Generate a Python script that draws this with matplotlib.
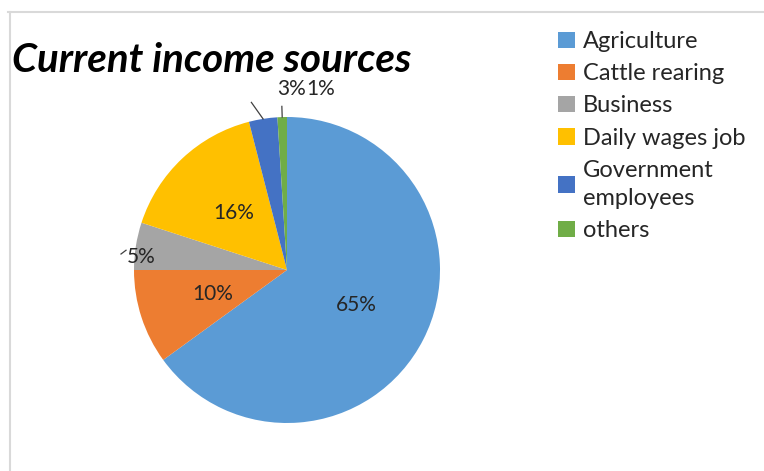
import numpy as np
import matplotlib.pyplot as plt

categories = ['Agriculture', 'Cattle rearing', 'Business', 'Daily wages job',
              'Government\nemployees', 'others']
values = [65, 10, 5, 16, 3, 1]
colors = ['#5B9BD5', '#ED7D31', '#A5A5A5', '#FFC000', '#4472C4', '#70AD47']

plt.rcParams['font.family'] = ['Lato', 'DejaVu Sans']

fig = plt.figure(figsize=(7.64, 4.71), dpi=100)
fig.patch.set_facecolor('white')

# frame lines (top and left of the chart area)
fig.add_artist(plt.Line2D([8 / 764, 1], [1 - 12 / 471] * 2, color='#d9d9d9', lw=1.5))
fig.add_artist(plt.Line2D([10 / 764] * 2, [0, 1 - 12 / 471], color='#d9d9d9', lw=1.5))

ax = fig.add_axes([134 / 764, 48 / 471, 306 / 764, 306 / 471])
wedges, _ = ax.pie(values, colors=colors, startangle=90, counterclock=False,
                   radius=1, wedgeprops=dict(linewidth=0))
ax.set_xlim(-1, 1)
ax.set_ylim(-1, 1)
ax.set_aspect('equal')
ax.axis('off')


def polar(r, deg):
    a = np.deg2rad(deg)
    return r * np.cos(a), r * np.sin(a)


txt = dict(fontsize=15, color='#262626', ha='center', va='center')
lead = dict(color='#404040', lw=0.9, clip_on=False)
for w, v in zip(wedges, values):
    mid = (w.theta1 + w.theta2) / 2
    if v >= 10:
        x, y = polar(0.51, mid)
        ax.text(x, y, f'{v}%', **txt)
    elif v == 5:
        x, y = polar(0.96, mid + 4)
        ax.text(x, y, f'{v}%', **txt)
        p1, p2 = polar(1.09, mid + 3.5), polar(1.06, mid + 2)
        ax.plot([p1[0], p2[0]], [p1[1], p2[1]], **lead)
    elif v == 3:
        p1, p2 = polar(1.0, mid), polar(1.12, mid + 3)
        ax.plot([p1[0], p2[0]], [p1[1], p2[1]], **lead)
        ax.text(0.03, 1.18, f'{v}%', **txt)
    else:
        p1, p2 = polar(1.0, mid), polar(1.07, mid)
        ax.plot([p1[0], p2[0]], [p1[1], p2[1]], **lead)
        ax.text(0.22, 1.18, f'{v}%', **txt)

fig.text(12 / 764, 1 - 60 / 471, 'Current income sources', fontsize=29,
         fontweight='bold', fontstyle='italic', color='black', va='center', ha='left')

leg = fig.legend(wedges, categories, loc='upper left', bbox_to_anchor=(537 / 764, 1 - 10 / 471),
                 frameon=False, fontsize=17, handlelength=0.7, handleheight=0.7,
                 handletextpad=0.35, labelspacing=0.47, labelcolor='#262626')
for t in leg.get_texts():
    t.set_linespacing(1.45)

fig.savefig('out.png', dpi=100)
